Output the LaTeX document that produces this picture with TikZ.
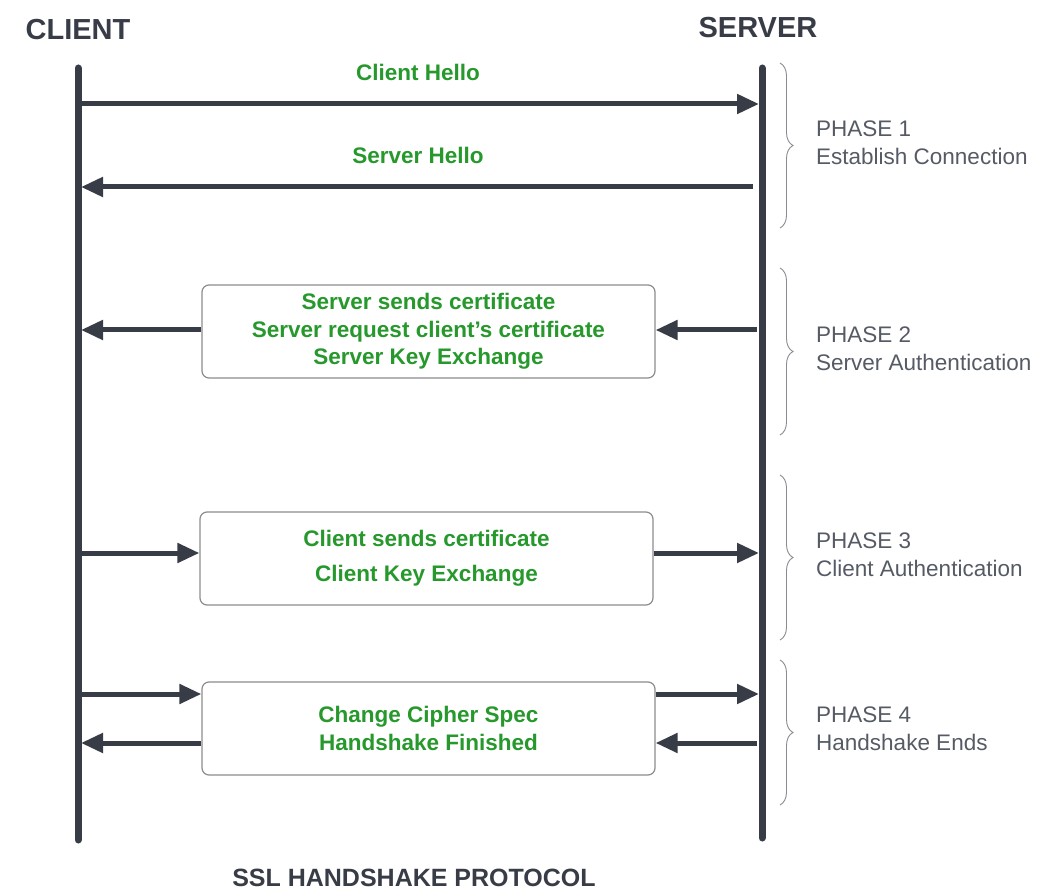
\documentclass[tikz,border=0pt]{standalone}
\usepackage{fontspec}
\setmainfont{Liberation Sans}
\usetikzlibrary{arrows.meta,decorations.pathreplacing}
\definecolor{ink}{RGB}{55,60,70}
\definecolor{grn}{RGB}{38,152,44}
\definecolor{phasecol}{RGB}{85,90,100}
\definecolor{boxline}{RGB}{140,140,140}
\begin{document}
\begin{tikzpicture}[x=1pt,y=-1pt,
  life/.style={line width=7pt, draw=ink, line cap=round},
  msg/.style={line width=5pt, draw=ink, -{Triangle[length=22pt,width=19pt]}},
  header/.style={font=\fontsize{29}{32}\selectfont\bfseries, text=ink, inner sep=0pt},
  msgtext/.style={font=\fontsize{22.5}{27.5}\selectfont\bfseries, text=grn, align=center, inner sep=0pt},
  msgbox/.style={draw=boxline, line width=1.2pt, rounded corners=7pt, minimum width=453pt, minimum height=93pt, font=\fontsize{22.5}{27.5}\selectfont\bfseries, text=grn, align=center, inner sep=0pt},
  phasebrace/.style={draw=phasecol!70, line width=0.9pt, decorate, decoration={brace, amplitude=13pt}},
  phasetext/.style={font=\fontsize{22.5}{27.5}\selectfont, text=phasecol, align=left, anchor=west, inner sep=0pt}
]
\useasboundingbox (0,0) rectangle (1037,893);

% headers
\node[header] (client) at (78,30) {CLIENT};
\node[header] (server) at (758,28) {SERVER};

% lifelines
\coordinate (ctop) at (78,68);
\coordinate (cbot) at (78,840);
\coordinate (stop) at (762,68);
\coordinate (sbot) at (762,838);
\draw[life] (ctop) -- (cbot);
\draw[life] (stop) -- (sbot);

% phase 1
\node[msgtext] (hello1) at (418,72) {Client Hello};
\coordinate (c1) at (80,104);
\coordinate (s1) at (759,104);
\draw[msg] (c1) -- (s1);
\node[msgtext] (hello2) at (418,155) {Server Hello};
\coordinate (s1b) at (753,187);
\coordinate (c1b) at (81,187);
\draw[msg] (s1b) -- (c1b);

% phase 2
\node[msgbox] (box2) at (428.5,331.5) {Server sends certificate\\Server request client{\char"0027}s certificate\\Server Key Exchange};
\coordinate (s2) at (757,330);
\coordinate (c2) at (81,330);
\draw[msg] (s2) -- (box2.east |- s2);
\draw[msg] (box2.west |- c2) -- (c2);

% phase 3
\node[msgbox] (box3) at (426.5,558.5) {Client sends certificate\\[7.5pt]Client Key Exchange};
\coordinate (c3) at (80,553);
\coordinate (s3) at (759,553);
\draw[msg] (c3) -- (box3.west |- c3);
\draw[msg] (box3.east |- s3) -- (s3);

% phase 4
\node[msgbox] (box4) at (428.5,728.5) {Change Cipher Spec\\Handshake Finished};
\coordinate (c4a) at (80,694);
\coordinate (s4a) at (759,694);
\draw[msg] (c4a) -- (box4.west |- c4a);
\draw[msg] (box4.east |- s4a) -- (s4a);
\coordinate (s4b) at (757,743);
\coordinate (c4b) at (81,743);
\draw[msg] (s4b) -- (box4.east |- s4b);
\draw[msg] (box4.west |- c4b) -- (c4b);

% braces
\coordinate (b1t) at (780,63);  \coordinate (b1b) at (780,228);
\coordinate (b2t) at (780,268); \coordinate (b2b) at (780,435);
\coordinate (b3t) at (780,475); \coordinate (b3b) at (780,640);
\coordinate (b4t) at (780,660); \coordinate (b4b) at (780,805);
\draw[phasebrace] (b1t) -- (b1b);
\draw[phasebrace] (b2t) -- (b2b);
\draw[phasebrace] (b3t) -- (b3b);
\draw[phasebrace] (b4t) -- (b4b);

% phase labels
\node[phasetext] (p1) at (816,143) {PHASE 1\\Establish Connection};
\node[phasetext] (p2) at (816,349) {PHASE 2\\Server Authentication};
\node[phasetext] (p3) at (816,555) {PHASE 3\\Client Authentication};
\node[phasetext] (p4) at (816,729) {PHASE 4\\Handshake Ends};

% title
\node[header, font=\fontsize{25}{30}\selectfont\bfseries] (title) at (414,878) {SSL HANDSHAKE PROTOCOL};
\end{tikzpicture}
\end{document}
